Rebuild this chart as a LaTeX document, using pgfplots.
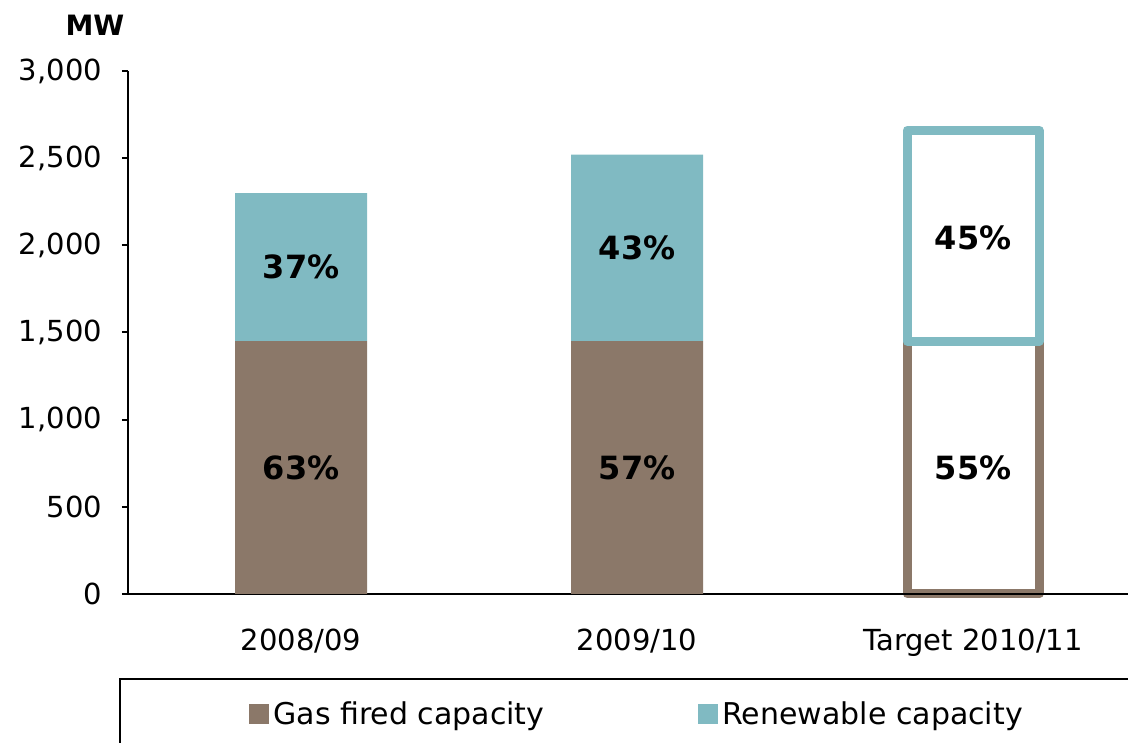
\documentclass[border=0pt]{standalone}
\usepackage{fontspec}
\setmainfont{DejaVu Sans}
\usepackage{pgfplots}
\pgfplotsset{compat=1.18}
\definecolor{gas}{RGB}{139,120,105}
\definecolor{ren}{RGB}{128,186,194}
\begin{document}
\begin{tikzpicture}[x=1pt,y=1pt]
\pgfplotsset{base/.style={scale only axis, width=500pt, height=261.5pt,
  xmin=-0.515, xmax=2.461, ymin=0, ymax=3000,
  at={(64pt,74.5pt)}, anchor=south west, bar width=0.393, clip=false}}
% target bar, gas part (outlined)
\begin{axis}[base, hide axis, ybar stacked]
\addplot[draw=gas, fill=white, line width=4.5pt, line join=round] coordinates {(2,1450)};
\end{axis}
% target bar, renewable part (outlined), stacked on an invisible base
\begin{axis}[base, hide axis, ybar stacked]
\addplot[draw=none, fill=none] coordinates {(2,1450)};
\addplot[draw=ren, fill=white, line width=4.5pt, line join=round] coordinates {(2,1210)};
\end{axis}
% main axis
\begin{axis}[base, ybar stacked,
  axis x line*=bottom, axis y line*=left,
  axis line style={line width=1.4pt, black},
  ytick={0,500,...,3000},
  xtick={0,1,2}, xticklabels={2008/09,2009/10,Target 2010/11},
  x tick style={draw=none},
  y tick style={line width=1pt, black},
  tick align=outside, major tick length=3pt,
  /pgf/number format/1000 sep={,},
  /pgf/number format/assume math mode=true,
  tick label style={font=\fontsize{14.5}{17}\selectfont},
  xticklabel style={yshift=-11pt},
  yticklabel style={xshift=-6.5pt},
  legend columns=2,
  legend image code/.code={\fill[#1] (0pt,-5pt) rectangle (10pt,5pt);},
  legend style={draw=none, fill=none, at={(0.115,-0.23)}, anchor=west,
    font=\fontsize{15}{18}\selectfont,
    /tikz/every even column/.append style={column sep=75pt}},
]
\addplot[fill=gas, draw=none] coordinates {(0,1450) (1,1450)};
\addplot[fill=ren, draw=none] coordinates {(0,850) (1,1070)};
\legend{Gas fired capacity, Renewable capacity}
\end{axis}
% percentage labels
\begin{axis}[base, hide axis]
\addplot[only marks, mark=*, mark size=0pt, mark options={draw=none, fill=none},
  nodes near coords, point meta=explicit symbolic,
  every node near coord/.append style={font=\bfseries\fontsize{16}{19}\selectfont, anchor=center, black}]
  coordinates {(0,725)[63\%] (0,1875)[37\%] (1,725)[57\%] (1,1985)[43\%] (2,725)[55\%] (2,2045)[45\%]};
\end{axis}
\node[font=\bfseries\fontsize{14}{17}\selectfont] at (47.5,359) {MW};
\draw[line width=1.2pt] (60,32) rectangle (600,-20);
\pgfresetboundingbox
\useasboundingbox (0,0) rectangle (564,371.5);
\end{tikzpicture}
\end{document}
